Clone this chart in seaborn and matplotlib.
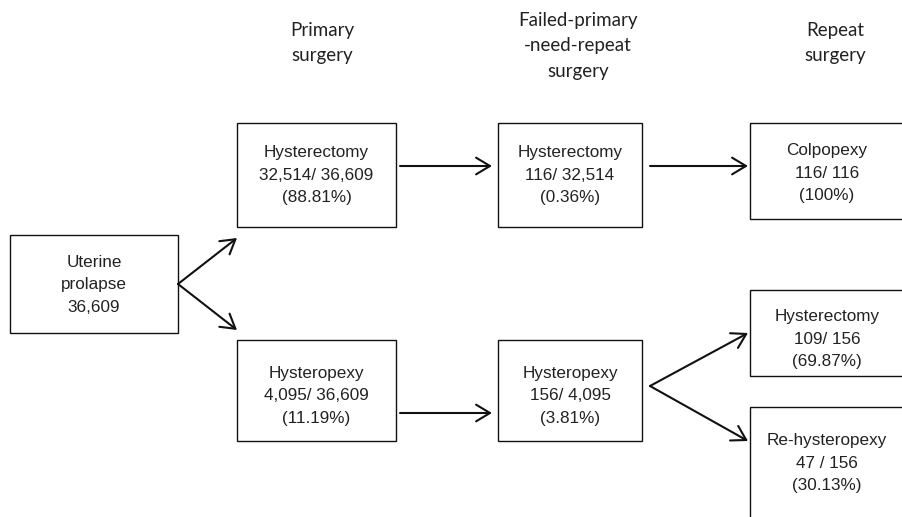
import matplotlib.pyplot as plt
import seaborn as sns
from matplotlib.patches import Rectangle

# Flow chart contents
stage_titles = ["Primary\nsurgery", "Failed-primary\n-need-repeat\nsurgery", "Repeat\nsurgery"]
procedures = ["Uterine\nprolapse", "Hysterectomy", "Hysteropexy", "Hysterectomy", "Hysteropexy",
              "Colpopexy", "Hysterectomy", "Re-hysteropexy"]
counts = ["36,609", "32,514/ 36,609", "4,095/ 36,609", "116/ 32,514", "156/ 4,095",
          "116/ 116", "109/ 156", "47 / 156"]
shares = ["", "(88.81%)", "(11.19%)", "(0.36%)", "(3.81%)", "(100%)", "(69.87%)", "(30.13%)"]

# layout (pixel coords): left, top, width, height
boxes = [(10, 235, 168, 98), (237, 123, 159, 104), (237, 340, 159, 101),
         (498, 123, 144, 104), (498, 340, 144, 101), (750, 123, 170, 96),
         (750, 290, 170, 86), (750, 407, 170, 130)]
text_y = [285, 175, 396, 175, 396, 173, 339, 463]
title_x = [322, 578, 835]
title_y = [43, 46, 43]
arrows = [((178, 284), (237, 238)), ((178, 284), (237, 330)),
          ((400, 166), (492, 166)), ((650, 166), (748, 166)),
          ((400, 413), (492, 413)),
          ((650, 386), (748, 333)), ((650, 386), (748, 441))]

sns.set_style("white")
fig, ax = plt.subplots(figsize=(9.03, 5.17), dpi=100)
fig.subplots_adjust(0, 0, 1, 1)
ax.set_xlim(0, 903)
ax.set_ylim(517, 0)
ax.axis("off")

for t, x, y in zip(stage_titles, title_x, title_y):
    ax.text(x, y, t, ha="center", va="center", fontsize=13.5, family="Lato",
            color="#222222", linespacing=1.6)

for (l, t, w, h), name, cnt, sh, ty in zip(boxes, procedures, counts, shares, text_y):
    ax.add_patch(Rectangle((l, t), w, h, fill=False, edgecolor="#111111", lw=1.0,
                           clip_on=True))
    label = "\n".join(s for s in [name, cnt, sh] if s)
    ax.text(l + w / 2 if l < 700 else 827, ty, label, ha="center", va="center",
            fontsize=12.3, family="Liberation Sans", color="#222222", linespacing=1.65)

for start, end in arrows:
    ax.annotate("", xy=end, xytext=start,
                arrowprops=dict(arrowstyle="->,head_length=0.5,head_width=0.3",
                                mutation_scale=20, lw=1.5, color="#111111",
                                shrinkA=0, shrinkB=0))

plt.savefig("out.png", dpi=100)
